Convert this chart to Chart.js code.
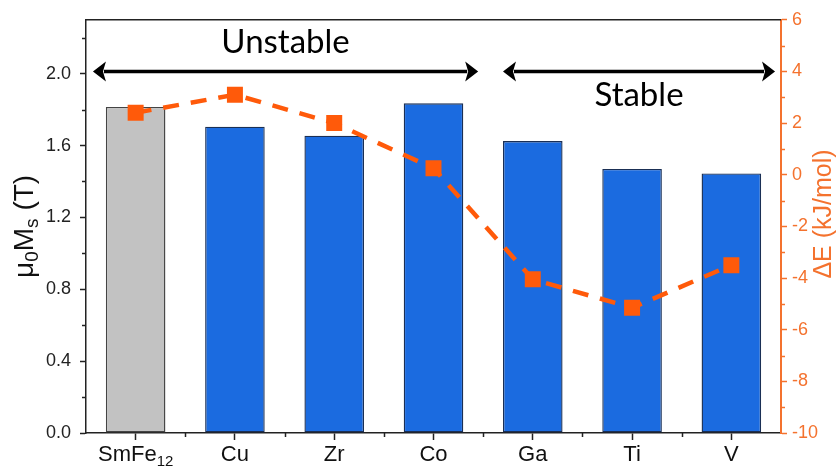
<!DOCTYPE html>
<html>
<head>
<meta charset="utf-8">
<script src="https://cdn.jsdelivr.net/npm/chart.js@4.4.1/dist/chart.umd.min.js"></script>
<style>
  html, body { margin: 0; padding: 0; background: #ffffff; }
  #wrap { width: 836px; height: 467px; position: relative; }
</style>
</head>
<body>
<div id="wrap"><canvas id="chart" width="836" height="467"></canvas></div>
<script>
// Compositions (substituent on the SmFe12 lattice)
const categories = ['SmFe12', 'Cu', 'Zr', 'Co', 'Ga', 'Ti', 'V'];
// Saturation magnetisation µ0Ms (T)
const magnetization = [1.815, 1.705, 1.655, 1.835, 1.625, 1.47, 1.445];
// Formation energy difference ΔE (kJ/mol)
const formationEnergy = [2.4, 3.1, 2.0, 0.25, -4.05, -5.15, -3.5];
// Axis ranges and tick spacing
const msRange = [0, 2.3];
const msStep = 0.4;
const energyRange = [-10, 6];
const energyStep = 2;
// Stability groups (by category index)
const stabilityGroups = [
  { label: 'Unstable', first: 0, last: 3 },
  { label: 'Stable', first: 4, last: 6 }
];

const ORANGE = '#ff5a0a';
const AXIS_ORANGE = '#f4722e';
const BLUE = '#1b6be0';
const GREY = '#c2c2c2';
const SANS = '"Liberation Sans", Arial, sans-serif';

function splitSub(label) {
  const m = label.match(/^(\D+)(\d+)$/);
  return m ? [m[1], m[2]] : [label, ''];
}

const decorations = {
  id: 'decorations',
  afterDraw(chart) {
    const ctx = chart.ctx;
    const area = chart.chartArea;
    const x = chart.scales.x, y = chart.scales.y, y2 = chart.scales.y2;
    ctx.save();

    // top frame line
    ctx.strokeStyle = '#222';
    ctx.lineWidth = 1.5;
    ctx.beginPath();
    ctx.moveTo(area.left, area.top);
    ctx.lineTo(area.right, area.top);
    ctx.stroke();

    // minor ticks, left axis
    ctx.lineWidth = 1.5;
    ctx.strokeStyle = '#222';
    for (let v = msStep / 2; v < msRange[1]; v += msStep) {
      const py = Math.round(y.getPixelForValue(v)) + 0.5;
      ctx.beginPath();
      ctx.moveTo(area.left, py);
      ctx.lineTo(area.left - 4, py);
      ctx.stroke();
    }
    // minor ticks, bottom axis (between categories)
    for (let i = 0; i < categories.length - 1; i++) {
      const px = Math.round(x.getPixelForValue(i + 0.5)) + 0.5;
      ctx.beginPath();
      ctx.moveTo(px, area.bottom);
      ctx.lineTo(px, area.bottom + 4);
      ctx.stroke();
    }
    // minor ticks, right axis
    ctx.strokeStyle = AXIS_ORANGE;
    for (let v = energyRange[0] + energyStep / 2; v < energyRange[1]; v += energyStep) {
      const py = Math.round(y2.getPixelForValue(v)) + 0.5;
      ctx.beginPath();
      ctx.moveTo(area.right, py);
      ctx.lineTo(area.right + 4, py);
      ctx.stroke();
    }

    // category labels (with subscripts)
    ctx.fillStyle = '#111';
    ctx.textBaseline = 'alphabetic';
    categories.forEach((c, i) => {
      const [base, sub] = splitSub(c);
      ctx.font = '22px ' + SANS;
      const wb = ctx.measureText(base).width;
      ctx.font = '15px ' + SANS;
      const ws = sub ? ctx.measureText(sub).width : 0;
      const cx = x.getPixelForValue(i);
      let sx = cx - (wb + ws) / 2;
      ctx.textAlign = 'left';
      ctx.font = '22px ' + SANS;
      ctx.fillText(base, sx, 461);
      if (sub) {
        ctx.font = '15px ' + SANS;
        ctx.fillText(sub, sx + wb, 466);
      }
    });

    // left axis title: µ0Ms (T)
    ctx.save();
    ctx.translate(33, (area.top + area.bottom) / 2);
    ctx.rotate(-Math.PI / 2);
    const parts = [
      { t: '\u03bc', size: 28, dy: 0 },
      { t: '0', size: 19, dy: 5 },
      { t: 'M', size: 28, dy: 0 },
      { t: 's', size: 19, dy: 5 },
      { t: ' (T)', size: 28, dy: 0 }
    ];
    let total = 0;
    parts.forEach(p => { ctx.font = p.size + 'px ' + SANS; p.w = ctx.measureText(p.t).width; total += p.w; });
    let px = -total / 2;
    ctx.fillStyle = '#111';
    ctx.textAlign = 'left';
    parts.forEach(p => { ctx.font = p.size + 'px ' + SANS; ctx.fillText(p.t, px, p.dy); px += p.w; });
    ctx.restore();

    // right axis title
    ctx.save();
    ctx.translate(831, 214);
    ctx.rotate(-Math.PI / 2);
    ctx.font = '25px ' + SANS;
    ctx.fillStyle = AXIS_ORANGE;
    ctx.textAlign = 'center';
    ctx.fillText('\u0394E (kJ/mol)', 0, 0);
    ctx.restore();

    // stability arrows with labels
    const ay = y2.getPixelForValue(4);
    const ends = [
      [x.getPixelForValue(stabilityGroups[0].first - 0.43), x.getPixelForValue(stabilityGroups[0].last + 0.45)],
      [x.getPixelForValue(stabilityGroups[1].first - 0.30), x.getPixelForValue(stabilityGroups[1].last + 0.44)]
    ];
    ctx.fillStyle = '#000';
    ctx.strokeStyle = '#000';
    ends.forEach(([x0, x1], k) => {
      const head = 13, half = 10;
      ctx.lineWidth = 3.5;
      ctx.beginPath();
      ctx.moveTo(x0 + head - 2, ay);
      ctx.lineTo(x1 - head + 2, ay);
      ctx.stroke();
      ctx.beginPath();
      ctx.moveTo(x0, ay);
      ctx.lineTo(x0 + head, ay - half);
      ctx.lineTo(x0 + head - 3, ay);
      ctx.lineTo(x0 + head, ay + half);
      ctx.closePath();
      ctx.fill();
      ctx.beginPath();
      ctx.moveTo(x1, ay);
      ctx.lineTo(x1 - head, ay - half);
      ctx.lineTo(x1 - head + 3, ay);
      ctx.lineTo(x1 - head, ay + half);
      ctx.closePath();
      ctx.fill();

      ctx.font = '33px Lato, "Open Sans", sans-serif';
      ctx.textAlign = 'center';
      ctx.textBaseline = 'alphabetic';
      const tx = (x0 + x1) / 2;
      const ty = k === 0 ? ay - 18 : ay + 35;
      ctx.fillText(stabilityGroups[k].label, tx, ty);
    });

    ctx.restore();
  }
};

new Chart(document.getElementById('chart'), {
  data: {
    labels: categories,
    datasets: [
      {
        type: 'line',
        label: '\u0394E',
        data: formationEnergy,
        yAxisID: 'y2',
        order: 0,
        borderColor: ORANGE,
        borderWidth: 4.5,
        borderDash: [16, 12],
        fill: false,
        tension: 0,
        pointStyle: 'rect',
        pointRadius: 11.3,
        pointHoverRadius: 11.3,
        pointBackgroundColor: ORANGE,
        pointBorderWidth: 0
      },
      {
        type: 'bar',
        label: '\u03bc0Ms',
        data: magnetization,
        yAxisID: 'y',
        order: 1,
        backgroundColor: categories.map((c, i) => i === 0 ? GREY : BLUE),
        borderColor: categories.map((c, i) => i === 0 ? '#444444' : '#1a2f55'),
        borderWidth: 1.4,
        borderSkipped: false,
        barPercentage: 0.6,
        categoryPercentage: 1.0
      }
    ]
  },
  options: {
    responsive: false,
    animation: false,
    events: [],
    layout: { padding: { top: 15, left: 0, right: 0, bottom: 0 } },
    plugins: { legend: { display: false }, tooltip: { enabled: false } },
    scales: {
      x: {
        type: 'category',
        offset: true,
        afterFit(s) { s.height = 34; },
        grid: { offset: false, drawOnChartArea: false, tickLength: 7, tickColor: '#222', tickWidth: 1.5 },
        border: { color: '#222', width: 1.5 },
        ticks: { display: false }
      },
      y: {
        position: 'left',
        min: msRange[0],
        max: msRange[1],
        afterFit(s) { s.width = 86; },
        grid: { drawOnChartArea: false, tickLength: 6, tickColor: '#222', tickWidth: 1.5 },
        border: { color: '#222', width: 1.5 },
        ticks: {
          stepSize: msStep,
          includeBounds: false,
          padding: 9,
          color: '#222',
          font: { family: SANS, size: 18 },
          callback: v => Number(v).toFixed(1)
        }
      },
      y2: {
        position: 'right',
        min: energyRange[0],
        max: energyRange[1],
        afterFit(s) { s.width = 55; },
        grid: { drawOnChartArea: false, tickLength: 6, tickColor: AXIS_ORANGE, tickWidth: 1.5 },
        border: { color: AXIS_ORANGE, width: 2 },
        ticks: {
          stepSize: energyStep,
          includeBounds: false,
          padding: 5,
          color: AXIS_ORANGE,
          font: { family: SANS, size: 18 },
          callback: v => String(v)
        }
      }
    }
  },
  plugins: [decorations]
});
</script>
</body>
</html>
